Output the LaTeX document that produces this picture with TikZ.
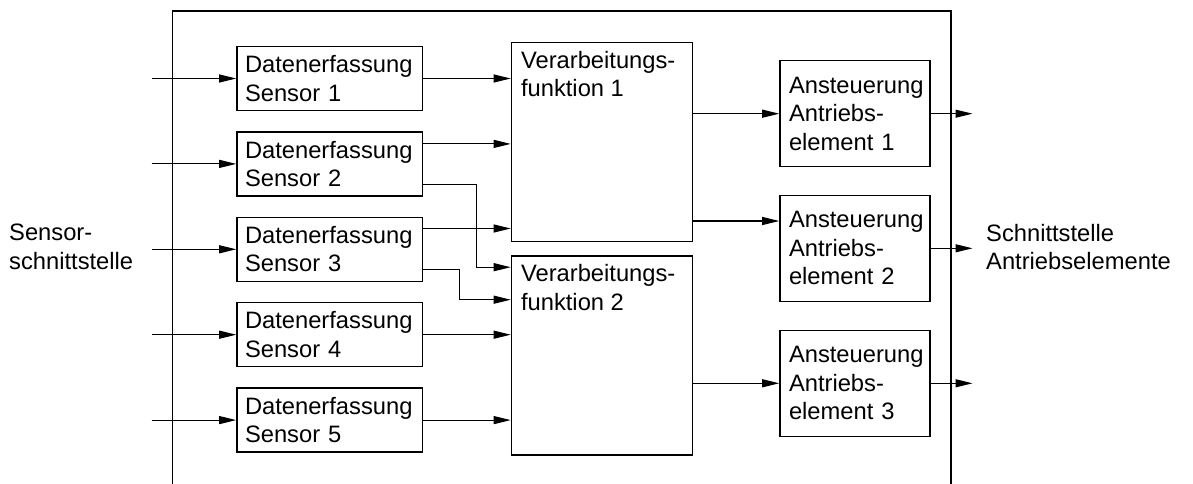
\documentclass[tikz,border=0pt]{standalone}
\usepackage{fontspec}
\setmainfont{Liberation Sans}
\usetikzlibrary{arrows.meta}
\hyphenpenalty=10000

\begin{document}
\begin{tikzpicture}[font=\fontsize{13.5}{16.2}\selectfont]
\tikzset{erfass/.style={draw, line width=0.9pt, minimum width=3.71cm, minimum height=1.28cm, text width=3.39cm, inner xsep=0.16cm, align=left}}
\tikzset{verarb/.style={draw, line width=0.9pt, minimum width=3.62cm, minimum height=3.98cm}}
\tikzset{anst/.style={draw, line width=0.9pt, minimum width=3cm, minimum height=2.12cm, text width=2.64cm, inner xsep=0.18cm, align=left}}
\tikzset{pfeil/.style={-{Triangle[length=0.34cm, width=0.16cm]}, line width=0.6pt}}
\useasboundingbox (0,0) rectangle (23.86,-9.68);
\draw[line width=0.9pt] (3.45,-9.68) -- (3.45,-0.22) -- (19.02,-0.22) -- (19.02,-9.68);
\node[anchor=west, align=left] (SS) at (0.06,-4.94) {Sensor-\\schnittstelle};
\node[anchor=west, align=left] (SA) at (19.6,-4.94) {Schnittstelle\\Antriebselemente};
\node[erfass] (D1) at (6.595,-1.57) {Datenerfassung\\Sensor 1};
\node[erfass] (D2) at (6.595,-3.278) {Datenerfassung\\Sensor 2};
\node[erfass] (D3) at (6.595,-4.986) {Datenerfassung\\Sensor 3};
\node[erfass] (D4) at (6.595,-6.694) {Datenerfassung\\Sensor 4};
\node[erfass] (D5) at (6.595,-8.402) {Datenerfassung\\Sensor 5};
\node[verarb, label={[anchor=north west, align=left, inner xsep=0.2cm, inner ysep=0.18cm]north west:{Verarbeitungs-\\funktion 1}}] (V1) at (12.04,-2.84) {};
\node[verarb, label={[anchor=north west, align=left, inner xsep=0.2cm, inner ysep=0.18cm]north west:{Verarbeitungs-\\funktion 2}}] (V2) at (12.04,-7.11) {};
\node[anst] (A1) at (17.1,-2.274) {Ansteuerung\\Antriebs-\\element 1};
\node[anst] (A2) at (17.1,-4.966) {Ansteuerung\\Antriebs-\\element 2};
\node[anst] (A3) at (17.1,-7.666) {Ansteuerung\\Antriebs-\\element 3};
\coordinate (S1) at (3.03,-1.57);
\coordinate (S2) at (3.03,-3.278);
\coordinate (S3) at (3.03,-4.986);
\coordinate (S4) at (3.03,-6.694);
\coordinate (S5) at (3.03,-8.402);
\coordinate (E1) at (19.45,-2.274);
\coordinate (E2) at (19.45,-4.966);
\coordinate (E3) at (19.45,-7.666);
\coordinate (D2o) at ([yshift=-0.256cm]D2.north east);
\coordinate (D2u) at ([yshift=0.25cm]D2.south east);
\coordinate (D3o) at ([yshift=-0.24cm]D3.north east);
\coordinate (D3u) at ([yshift=0.25cm]D3.south east);
\coordinate (V2a) at ([yshift=-0.24cm]V2.north west);
\coordinate (V2b) at ([yshift=-0.89cm]V2.north west);
\coordinate (A2i) at ([yshift=-0.53cm]A2.north west);
\draw[pfeil] (S1) -- (D1);
\draw[pfeil] (S2) -- (D2);
\draw[pfeil] (S3) -- (D3);
\draw[pfeil] (S4) -- (D4);
\draw[pfeil] (S5) -- (D5);
\draw[pfeil] (D1) -- (D1 -| V1.west);
\draw[pfeil] (D2o) -- (D2o -| V1.west);
\draw[pfeil] (D3o) -- (D3o -| V1.west);
\draw[pfeil] (D2u) -- ++(1.07,0) |- (V2a);
\draw[pfeil] (D3u) -- ++(0.716,0) |- (V2b);
\draw[pfeil] (D4) -- (D4 -| V2.west);
\draw[pfeil] (D5) -- (D5 -| V2.west);
\draw[pfeil] (A1 -| V1.east) -- (A1);
\draw[pfeil] (A2i -| V1.east) -- (A2i);
\draw[pfeil] (A3 -| V2.east) -- (A3);
\draw[pfeil] (A1) -- (E1);
\draw[pfeil] (A2) -- (E2);
\draw[pfeil] (A3) -- (E3);
\end{tikzpicture}
\end{document}
